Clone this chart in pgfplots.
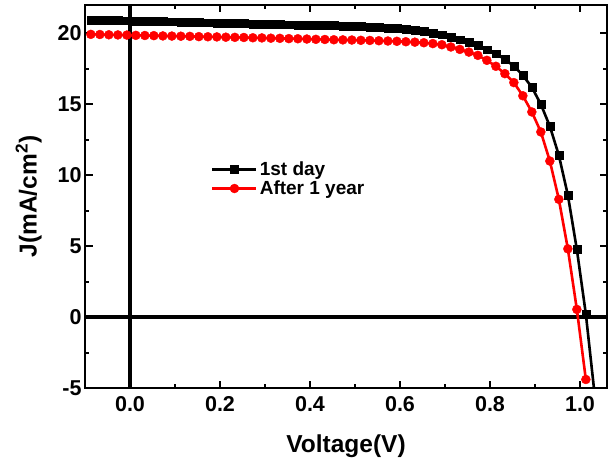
\documentclass[border=0pt]{standalone}
\usepackage{fontspec}
\setmainfont{Liberation Sans}
\usepackage{pgfplots}
\pgfplotsset{compat=1.18}
\begin{document}
\begin{tikzpicture}
\begin{axis}[
  scale only axis,
  width=522pt, height=383pt,
  xmin=-0.1, xmax=1.06,
  ymin=-5, ymax=22,
  xtick={0,0.2,0.4,0.6,0.8,1.0},
  xticklabels={0.0,0.2,0.4,0.6,0.8,1.0},
  ytick={-5,0,5,10,15,20},
  minor x tick num=1,
  minor y tick num=1,
  tick align=inside,
  major tick length=7.5pt,
  minor tick length=4pt,
  every tick/.style={line width=2pt,black},
  axis line style={line width=2.6pt},
  /pgf/number format/assume math mode=true,
  tick label style={font=\fontsize{21.5}{24}\selectfont\bfseries},
  xticklabel style={yshift=-5pt},
  xlabel={Voltage(V)},
  ylabel={J(mA/cm\textsuperscript{2})},
  label style={font=\fontsize{24.5}{27}\selectfont\bfseries},
  xlabel style={at={(axis description cs:0.5,-0.1514)}, anchor=center},
  ylabel style={at={(axis description cs:-0.108,0.5)}, anchor=center},
  clip=true,
  legend style={at={(rel axis cs:0.2356,0.546)}, anchor=west, draw=none, fill=none,
    font=\fontsize{19}{22}\selectfont\bfseries},
  legend cell align=left,
  legend image code/.code={\draw[mark repeat=2,mark phase=2] plot coordinates {(0pt,0pt) (22pt,0pt) (44pt,0pt)};},
]
\addplot[black, line width=3.4pt, no marks, forget plot] coordinates {(0,-5) (0,22)};
\addplot[black, line width=3.4pt, no marks, forget plot] coordinates {(-0.1,0) (1.06,0)};
\addplot[black, line width=2.6pt, mark=square*, mark size=3.9pt, mark options={solid, line width=0.4pt}] coordinates {
(-0.087,20.95) (-0.067,20.94) (-0.047,20.92) (-0.027,20.91) (-0.007,20.89)
(0.013,20.88) (0.033,20.86) (0.053,20.85) (0.073,20.83) (0.093,20.82)
(0.113,20.80) (0.133,20.79) (0.153,20.77) (0.173,20.75) (0.193,20.74)
(0.213,20.72) (0.233,20.70) (0.253,20.69) (0.273,20.67) (0.293,20.66)
(0.313,20.64) (0.333,20.63) (0.353,20.61) (0.373,20.60) (0.393,20.59)
(0.413,20.58) (0.433,20.56) (0.453,20.55) (0.473,20.53) (0.493,20.51)
(0.513,20.48) (0.533,20.45) (0.553,20.42) (0.573,20.38) (0.593,20.34)
(0.613,20.29) (0.633,20.22) (0.653,20.14) (0.673,20.04) (0.693,19.90)
(0.713,19.74) (0.733,19.56) (0.753,19.37) (0.773,19.15) (0.793,18.85)
(0.813,18.57) (0.833,18.17) (0.853,17.70) (0.873,17.04) (0.893,16.20)
(0.913,15.00) (0.933,13.45) (0.953,11.40) (0.973,8.60) (0.993,4.77)
(1.013,0.21) (1.033,-5.6)
};
\addlegendentry{1st day}
\addplot[red, line width=2.6pt, mark=*, mark size=4.5pt, mark options={solid, line width=0.4pt}] coordinates {
(-0.087,19.93) (-0.067,19.92) (-0.047,19.90) (-0.027,19.89) (-0.007,19.88)
(0.013,19.86) (0.033,19.85) (0.053,19.84) (0.073,19.82) (0.093,19.81)
(0.113,19.80) (0.133,19.79) (0.153,19.77) (0.173,19.76) (0.193,19.75)
(0.213,19.73) (0.233,19.72) (0.253,19.71) (0.273,19.69) (0.293,19.68)
(0.313,19.66) (0.333,19.65) (0.353,19.63) (0.373,19.62) (0.393,19.60)
(0.413,19.58) (0.433,19.57) (0.453,19.55) (0.473,19.54) (0.493,19.53)
(0.513,19.51) (0.533,19.50) (0.553,19.48) (0.573,19.46) (0.593,19.44)
(0.613,19.41) (0.633,19.38) (0.653,19.34) (0.673,19.28) (0.693,19.20)
(0.713,19.04) (0.733,18.87) (0.753,18.68) (0.773,18.45) (0.793,18.10)
(0.813,17.68) (0.833,17.16) (0.853,16.53) (0.873,15.60) (0.893,14.46)
(0.913,13.05) (0.933,11.00) (0.953,8.30) (0.973,4.81) (0.993,0.54)
(1.013,-4.4)
};
\addlegendentry{After 1 year}
\end{axis}
\pgfresetboundingbox
\path (-85pt,-75pt) rectangle (524pt,388pt);
\end{tikzpicture}
\end{document}
